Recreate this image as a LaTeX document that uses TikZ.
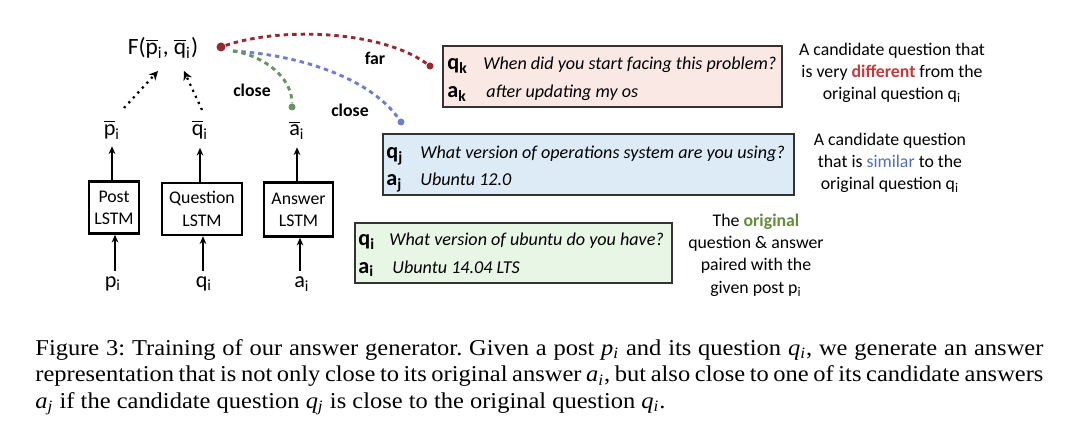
\documentclass[tikz,border=0pt]{standalone}
\usepackage{fontspec}
\setmainfont{Liberation Serif}
\newfontfamily\calfont{Carlito}
\newfontfamily\capfont{Liberation Serif}[FakeStretch=1.08]
\usetikzlibrary{arrows.meta}
\newcommand\pxu{0.45pt}
\definecolor{redline}{RGB}{150,40,50}
\definecolor{blueline}{RGB}{110,125,205}
\definecolor{greenline}{RGB}{105,145,100}
\definecolor{redfill}{RGB}{250,232,229}
\definecolor{bluefill}{RGB}{221,235,247}
\definecolor{greenfill}{RGB}{231,246,229}
\definecolor{redtxt}{RGB}{192,60,60}
\definecolor{bluetxt}{RGB}{79,110,189}
\definecolor{greentxt}{RGB}{100,140,60}
\newcommand\ovl[1]{$\overline{\mbox{#1}}$}
\newcommand\mv[2]{\textit{#1}\textsubscript{\textit{#2}}}
\begin{document}
\begin{tikzpicture}[x=0.45pt,y=-0.45pt,
  every node/.style={inner sep=0pt},
  lbl/.style={font=\calfont\fontsize{10}{12}\selectfont},
  desc/.style={font=\calfont\fontsize{8}{10}\selectfont, align=center},
  lstm/.style={draw, line width=1.1pt, align=center, font=\calfont\fontsize{8}{10}\selectfont, minimum height=52*\pxu},
  arr/.style={-{Stealth[length=3.5pt,width=3pt]}, line width=0.8pt},
  dotarr/.style={dotted, line width=1pt, -{Stealth[length=4pt,width=4pt]}},
  curvedash/.style={dash pattern=on 2pt off 1.8pt, line width=1.3pt},
  dotn/.style={circle, minimum size=7*\pxu},
  qabox/.style={draw=black!80, line width=0.8pt},
  qlab/.style={font=\calfont\fontsize{10}{12}\selectfont, anchor=base west},
  qtxt/.style={font=\calfont\itshape\fontsize{8.15}{9}\selectfont, anchor=base west},
  tag/.style={font=\calfont\bfseries\fontsize{8}{10}\selectfont}
]
\useasboundingbox (0,0) rectangle (1080,444);

% top function node
\node[lbl, font=\calfont\fontsize{10.5}{12}\selectfont] (F) at (163,48) {F(\ovl{p}\textsubscript{i}, \ovl{q}\textsubscript{i})};

% bar labels
\node[lbl] (pbar) at (112,130) {\ovl{p}\textsubscript{i}};
\node[lbl] (qbar) at (200,130) {\ovl{q}\textsubscript{i}};
\node[lbl] (abar) at (297,130) {\ovl{a}\textsubscript{i}};

% LSTM boxes
\node[lstm, minimum width=50*\pxu] (post) at (114,207.5) {Post\\LSTM};
\node[lstm, minimum width=80*\pxu] (ques) at (202,209) {Question\\LSTM};
\node[lstm, minimum width=69*\pxu, minimum height=54*\pxu] (ans) at (298.5,209.5) {Answer\\LSTM};

% inputs
\node[lbl] (pin) at (113,284) {p\textsubscript{i}};
\node[lbl] (qin) at (204,284) {q\textsubscript{i}};
\node[lbl] (ain) at (302,284) {a\textsubscript{i}};

% arrows
\coordinate (pinT) at (115,271);
\coordinate (qinT) at (203,271);
\coordinate (ainT) at (300,271);
\draw[arr] (pinT) -- (pinT |- post.south);
\draw[arr] (qinT) -- (qinT |- ques.south);
\draw[arr] (ainT) -- (ainT |- ans.south);
\draw[arr] (post.north -| pbar) -- ++(0,-34);
\draw[arr] (ques.north -| qbar) -- ++(0,-34);
\draw[arr] (ans.north -| abar) -- ++(0,-34);

% dotted arrows into F
\coordinate (ps) at (124,108);
\coordinate (qs) at (202,110);
\coordinate (Fl) at (158,71);
\coordinate (Fr) at (184,71);
\draw[dotarr] (ps) -- (Fl);
\draw[dotarr] (qs) -- (Fr);

% dashed curves
\node[dotn, fill=redline, minimum size=9*\pxu] (rs) at (221,47) {};
\coordinate (bs) at (233,51);
\node[dotn, fill=redline] (re) at (430,66) {};
\node[dotn, fill=greenline] (ge) at (292,107) {};
\node[dotn, fill=blueline] (be) at (401,122) {};
\draw[curvedash, redline] (rs) .. controls (280,27) and (380,30) .. (re);
\draw[curvedash, blueline] (bs) .. controls (300,55) and (370,78) .. (be);
\draw[curvedash, greenline] (bs) .. controls (265,56) and (292,78) .. (ge);

\node[tag] (far) at (375,58) {far};
\node[tag] (close1) at (252,90) {close};
\node[tag] (close2) at (350,110) {close};

% candidate boxes
\node[qabox, fill=redfill, minimum width=339*\pxu, minimum height=61*\pxu] (kbox) at (612.5,76.5) {};
\node[qlab] (kq) at (447,70) {\textbf{q}\textsubscript{\textbf{k}}};
\node[qlab] (ka) at (447,98) {\textbf{a}\textsubscript{\textbf{k}}};
\node[qtxt] (kqt) at (483,70) {When did you start facing this problem?};
\node[qtxt] (kat) at (486,98) {after updating my os};

\node[qabox, fill=bluefill, minimum width=411*\pxu, minimum height=61*\pxu] (jbox) at (588.5,164.5) {};
\node[qlab] (jq) at (386,159) {\textbf{q}\textsubscript{\textbf{j}}};
\node[qlab] (ja) at (386,186) {\textbf{a}\textsubscript{\textbf{j}}};
\node[qtxt] (jqt) at (420,159) {What version of operations system are you using?};
\node[qtxt] (jat) at (420,186) {Ubuntu 12.0};

\node[qabox, fill=greenfill, minimum width=317*\pxu, minimum height=60*\pxu] (ibox) at (513.5,253) {};
\node[qlab] (iq) at (358,246) {\textbf{q}\textsubscript{\textbf{i}}};
\node[qlab] (ia) at (358,273) {\textbf{a}\textsubscript{\textbf{i}}};
\node[qtxt] (iqt) at (389,246) {What version of ubuntu do you have?};
\node[qtxt] (iat) at (392,273) {Ubuntu 14.04 LTS};

% descriptions
\node[desc] (d1) at (892,73) {A candidate question that\\is very \textbf{\color{redtxt}different} from the\\original question q\textsubscript{i}};
\node[desc] (d2) at (890,163) {A candidate question\\that is {\color{bluetxt}similar} to the\\original question q\textsubscript{i}};
\node[desc] (d3) at (756,255) {The \textbf{\color{greentxt}original}\\question \& answer\\paired with the\\given post p\textsubscript{i}};

% caption
\node[anchor=north west, text width=1008*\pxu, align=justify, font=\capfont\fontsize{10.2}{11.9}\selectfont] (cap) at (35,339) {\frenchspacing Figure 3: Training of our answer generator. Given a post \mv{p}{i} and its question \mv{q}{i}, we generate an answer\linebreak representation that is not only close to its original answer \mv{a}{i}, but also close to one of its candidate answers\linebreak \mv{a}{j} if the candidate question \mv{q}{j} is close to the original question \mv{q}{i}.};
\end{tikzpicture}
\end{document}
